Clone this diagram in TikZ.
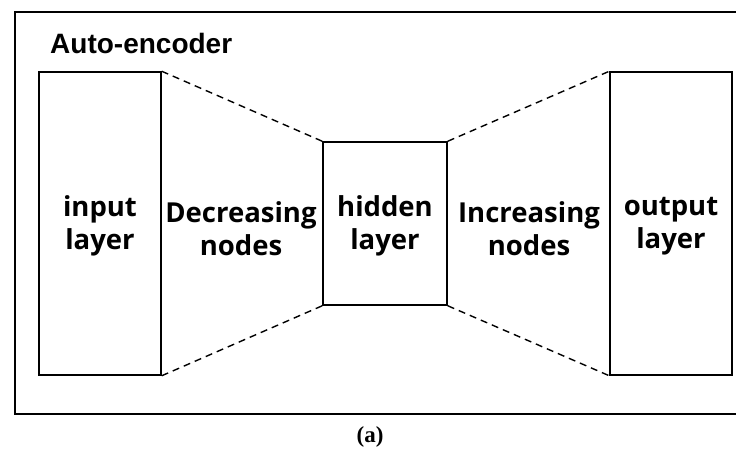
\documentclass[tikz,border=0pt]{standalone}
\usepackage{fontspec}
\setmainfont{Liberation Serif}
\newfontfamily\labelfont{Open Sans}
\newfontfamily\titlefont{Liberation Sans}
\usetikzlibrary{positioning}
\begin{document}
\begin{tikzpicture}[
    x=1pt, y=-1pt,
    layer/.style={draw, line width=1.5pt, minimum width=122pt, inner sep=0pt},
    label text/.style={font=\labelfont\bfseries\fontsize{27.5}{33}\selectfont, align=center},
    funnel/.style={dashed, line width=1.4pt, dash pattern=on 7pt off 5pt}
]
\useasboundingbox (0,0) rectangle (736,453);
% outer frame
\draw[line width=2pt] (15,12) rectangle (745,414);
\node[anchor=base west, inner sep=0pt, font=\titlefont\bfseries\fontsize{28}{32}\selectfont] (title) at (50,53) {Auto-encoder};
% layers
\node[layer, minimum height=303pt] (input) at (100,223.5) {};
\node[layer, minimum height=163pt, minimum width=124pt] (hidden) at (385,223.5) {};
\node[layer, minimum height=303pt] (output) at (671,223.5) {};
\node[label text] (inputtext) at (100,226) {input\\layer};
\node[label text] (hiddentext) at (385,226) {hidden\\layer};
\node[label text] (outputtext) at (671,226) {output\\layer};
\node[label text] (decr) at (241,229) {Decreasing\\nodes};
\node[label text] (incr) at (529,229) {Increasing\\nodes};
% funnel lines
\draw[funnel] (input.north east) -- (hidden.north west);
\draw[funnel] (input.south east) -- (hidden.south west);
\draw[funnel] (hidden.north east) -- (output.north west);
\draw[funnel] (hidden.south east) -- (output.south west);
\node[font=\bfseries\fontsize{23}{26}\selectfont] (caption) at (370,437) {(a)};
\end{tikzpicture}
\end{document}
